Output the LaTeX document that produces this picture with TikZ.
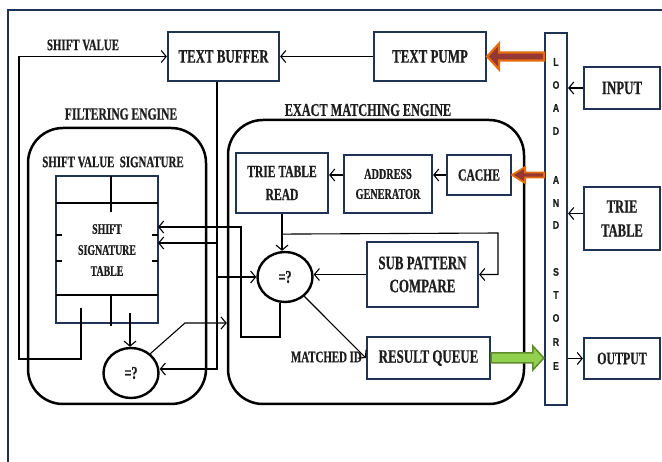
\documentclass[tikz,border=0pt]{standalone}
\usepackage{fontspec}
\setmainfont[FakeStretch=0.68, BoldFeatures={FakeBold=0.6}]{Liberation Serif}
\newfontfamily\lsfont[FakeStretch=0.8, BoldFeatures={FakeBold=0.4}]{Liberation Sans}
\usetikzlibrary{arrows.meta,shapes.geometric,calc}

\definecolor{navy}{HTML}{1F3355}
\definecolor{ink}{HTML}{1E1E1E}
\definecolor{orng}{HTML}{E46C0A}
\definecolor{brick}{HTML}{953735}
\definecolor{grn}{HTML}{92D050}
\definecolor{grndark}{HTML}{5E8C2A}

\newcommand\setfs[2]{\fontsize{#1}{#2}\selectfont}

% horizontal block arrow: style, tail, tip, half shaft, half head, head length
\newcommand\fatarrow[6]{%
  \draw[#1] let \p1=#2, \p2=#3, \n1={sign(\x1-\x2)} in
    (\x2,\y2) -- (\x2+\n1*#6,\y2+#5) -- (\x2+\n1*#6,\y2+#4) -- (\x1,\y2+#4)
    -- (\x1,\y2-#4) -- (\x2+\n1*#6,\y2-#4) -- (\x2+\n1*#6,\y2-#5) -- cycle;}

\tikzset{
  box/.style={draw=navy, line width=2.2pt, fill=white, inner sep=0pt, align=center,
    text=ink, font=\bfseries\setfs{19pt}{23pt}},
  eqnode/.style={ellipse, draw=black, line width=2.4pt, fill=white, inner sep=0pt,
    minimum width=55pt, minimum height=50pt, text=ink, font=\bfseries\setfs{18pt}{20pt}},
  engine/.style={draw=black, line width=2.5pt, rounded corners=35pt, inner sep=0pt},
  conn/.style={draw=black, line width=1.1pt},
  arr/.style={conn, -{Straight Barb[length=5pt,width=12pt,line width=1.1pt]}},
  title/.style={font=\bfseries\setfs{17pt}{20pt}, text=ink, inner sep=0pt},
  lsletter/.style={font=\lsfont\bfseries\setfs{11pt}{12pt}, text=ink, inner sep=0pt},
  tableline/.style={draw=black, line width=1.2pt},
}

\begin{document}
\begin{tikzpicture}[x=1pt,y=-1pt]
\useasboundingbox (0,0) rectangle (662,462);

% outer frame
\draw[navy, line width=2pt] (662,10) -- (8,10) -- (8,462);

% engines
\node[engine, minimum width=178pt, minimum height=276pt] (filter) at (117,266) {};
\node[engine, minimum width=296pt, minimum height=284pt] (exact) at (376,262) {};

% titles
\node[title] (filtertitle) at (121,114) {FILTERING ENGINE};
\node[title, font=\bfseries\setfs{18pt}{20pt}] (exacttitle) at (368,110) {EXACT MATCHING ENGINE};
\node[title, font=\bfseries\setfs{16pt}{20pt}] (svlabel) at (83,45) {SHIFT VALUE};
\node[title, font=\bfseries\setfs{16pt}{20pt}] (sigtitle) at (113,162) {SHIFT VALUE\ \ SIGNATURE};
\node[title, font=\bfseries\setfs{16pt}{20pt}, anchor=east] (matchedid) at (362,357) {MATCHED ID};

% blocks
\node[box, minimum width=111pt, minimum height=49pt] (textbuffer) at (223.5,56.5) {TEXT BUFFER};
\node[box, minimum width=112pt, minimum height=49pt] (textpump) at (430,56.5) {TEXT PUMP};
\node[box, minimum width=22pt, minimum height=372pt] (loadstore) at (556,219) {};
\node[box, minimum width=76pt, minimum height=42pt] (input) at (622,88) {INPUT};
\node[box, minimum width=76pt, minimum height=63pt, font=\bfseries\setfs{18.5pt}{24pt}] (trietable) at (622,218.5) {TRIE\\TABLE};
\node[box, minimum width=76pt, minimum height=41pt, font=\bfseries\setfs{17.5pt}{20pt}] (output) at (622,358.5) {OUTPUT};
\node[box, minimum width=64pt, minimum height=40pt, font=\bfseries\setfs{17pt}{20pt}] (cache) at (479,175) {CACHE};
\node[box, minimum width=88pt, minimum height=58pt, font=\bfseries\setfs{15pt}{20pt}] (addrgen) at (388,184) {ADDRESS\\GENERATOR};
\node[box, minimum width=92pt, minimum height=60pt, font=\bfseries\setfs{17pt}{23pt}] (trieread) at (282,183) {TRIE TABLE\\READ};
\node[box, minimum width=111pt, minimum height=65pt] (subpat) at (422.5,274.5) {SUB PATTERN\\COMPARE};
\node[box, minimum width=123pt, minimum height=42pt] (resultq) at (428.5,358) {RESULT QUEUE};
\node[box, outer sep=0pt, minimum width=102pt, minimum height=147pt] (sigtable) at (107,249.5) {};
\node[font=\bfseries\setfs{14.5pt}{21pt}, align=center, text=ink, inner sep=0pt] (sigtext) at (107,250) {SHIFT\\SIGNATURE\\TABLE};

% comparators
\node[eqnode] (eq1) at (285,277) {=?};
\node[eqnode] (eq2) at (131,373) {=?};

% load and store lettering
\foreach \ch/\yy [count=\i] in {L/62,O/85,A/108,D/131,A/180,N/203,D/225,S/272,T/295,O/318,R/342,E/366}
  \node[lsletter] (ls\i) at (556,\yy) {\ch};

% signature table rulings
\begin{scope}[shift={(sigtable.north west)}]
  \draw[tableline] (0,27) -- (102,27);
  \draw[tableline] (55,0) -- (55,36);
  \draw[tableline] (0,119) -- (102,119);
  \draw[tableline] (55,118) -- (55,150);
  \draw[tableline] (0,59) -- (6,59) (0,85) -- (6,85);
  \draw[tableline] (96,59) -- (102,59) (96,85) -- (102,85);
\end{scope}

% shift value feedback to the text buffer
\coordinate (svout) at (81,308);
\coordinate (svcorner) at (19,359);
\draw[arr] (svout) |- (svcorner) |- (textbuffer.west);

% text pump to text buffer
\draw[arr] (textpump.west) -- (textbuffer.east);

% text buffer fan-out
\coordinate (tbx) at ($(textbuffer.south)+(-6.5,0)$);
\coordinate (tbend) at (217,369);
\coordinate (tbsig) at (217,243);
\draw[arr] (tbx) -- (tbend) -- (tbend -| eq2.east);
\draw[arr] (tbx |- eq1.west) -- (eq1.west);
\draw[arr] (tbsig) -- (tbsig -| sigtable.east);

% comparator result back to the signature table
\coordinate (fbl) at (241,337);
\coordinate (fbt) at (241,227);
\draw[arr] ($(eq1.south)+(-5,0)$) |- (fbl) -- (fbt) -- (fbt -| sigtable.east);

% trie table read outputs
\coordinate (j1) at ($(trieread.south)+(0,20)$);
\coordinate (jx) at (498,233);
\draw[conn] (trieread.south) -- (j1);
\draw[arr] (j1) -- (j1 |- eq1.north);
\draw[arr] (j1) -- (jx) |- (subpat.east);

% sub pattern compare to comparator
\draw[arr] (subpat.west) -- (subpat.west -| eq1.east);

% match to result queue
\draw[arr] (eq1.-45) -- (resultq.west);

% signature table to lower comparator
\coordinate (sb) at (130,313);
\draw[arr] (sb) -- (sb |- eq2.north);

% lower comparator into the exact matching engine
\coordinate (bend) at (185,323);
\draw[arr] (eq2.45) -- (bend) -- (bend -| exact.west);

% load and store ports
\draw[arr] (input.west) -- (input.west -| loadstore.east);
\draw[arr] ($(trietable.west)+(0,-5)$) -- ($(trietable.west -| loadstore.east)+(0,-5)$);
\draw[arr] (loadstore.east |- output.west) -- (output.west);

% cache chain
\draw[arr] (cache.west) -- (cache.west -| addrgen.east);
\draw[arr] (addrgen.west |- cache.west) -- (cache.west -| trieread.east);

% block arrows
\fatarrow{draw=orng, fill=brick, line width=2.2pt, line join=miter}{(loadstore.west |- textpump.east)}{(textpump.east)}{4pt}{13pt}{12pt}
\fatarrow{draw=orng, fill=brick, line width=1.8pt, line join=miter}{(loadstore.west |- cache.east)}{(cache.east)}{2.5pt}{8pt}{13pt}
\fatarrow{draw=grndark, fill=grn, line width=1.5pt, line join=miter}{(resultq.east)}{(resultq.east -| loadstore.west)}{5pt}{12pt}{11pt}

\end{tikzpicture}
\end{document}
